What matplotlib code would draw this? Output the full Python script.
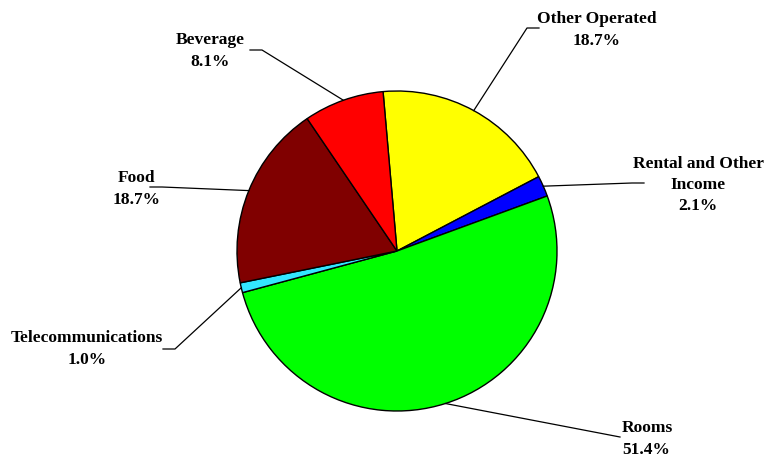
import matplotlib.pyplot as plt
import numpy as np

labels = ['Other Operated', 'Rental and Other\nIncome', 'Rooms', 'Telecommunications', 'Food', 'Beverage']
shares = [18.7, 2.1, 51.4, 1.0, 18.7, 8.1]
colors = ['#ffff00', '#0000ff', '#00ff00', '#33e6ff', '#800000', '#ff0000']

# label text position (px), elbow of leader line (px), text alignment
label_pos = [(597, 30), (698, 185), (622, 439), (87, 349), (137, 189), (210, 51)]
elbows = [(527, 28), (632, 183), (620, 437), (175, 349), (162, 187), (262, 50)]
align = ['center', 'center', 'left', 'center', 'center', 'center']

W, H = 773, 459
fig = plt.figure(figsize=(W / 100, H / 100), dpi=100)
ax = fig.add_axes([0, 0, 1, 1])

cx, cy, r = 397, H - 251, 160
wedges, _ = ax.pie(shares, colors=colors, startangle=95, counterclock=False,
                   center=(cx, cy), radius=r, frame=True,
                   wedgeprops=dict(edgecolor='black', linewidth=1.0))
ax.set_xlim(0, W)
ax.set_ylim(0, H)
ax.axis('off')

font = dict(family=['Liberation Serif', 'DejaVu Serif'], fontweight='bold', fontsize=12.5)
for w, lab, val, (tx, ty), (ex, ey), ha in zip(wedges, labels, shares, label_pos, elbows, align):
    mid = np.deg2rad((w.theta1 + w.theta2) / 2)
    px, py = cx + r * np.cos(mid), cy + r * np.sin(mid)
    ey = H - ey
    # short horizontal tail next to the label
    if ha == 'left':
        hx = ex
    elif ex < cx:
        hx = ex - 12
    else:
        hx = ex + 12
    ax.plot([px, ex, hx], [py, ey, ey], color='black', lw=0.9)
    ax.text(tx, H - ty, f'{lab}\n{val:.1f}%', ha=ha, va='center',
            linespacing=1.45, **font)

fig.savefig('out.png', dpi=100)
